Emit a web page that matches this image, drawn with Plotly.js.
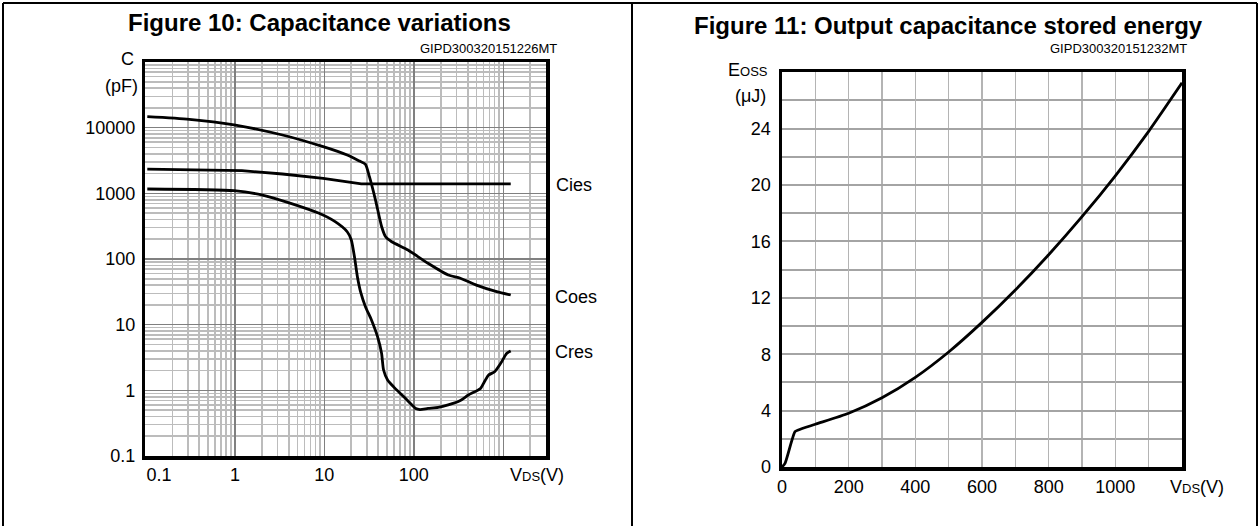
<!DOCTYPE html>
<html><head><meta charset="utf-8">
<script src="https://cdn.plot.ly/plotly-3.0.1.min.js"></script>
<style>html,body{margin:0;padding:0;background:#fff}#chart{width:1260px;height:526px}</style>
</head><body><div id="chart"></div>
<script>
// ---- Figure 10: capacitance variations (log-log) ----
const vdsCoes=[0.105,0.31,0.98,3.4,9.7,18,24.7,28.8,31.9,37.3,43.7,48.4,56.6,86,144,242,331,500,843,1210];
const coes=[14700,13400,11000,7730,5130,3830,3100,2770,1790,790,310,218,183,137,86,57,51,40,31.8,28.3];
const vdsCies=[0.105,1.2,3.4,9.7,25.9,1210];
const cies=[2340,2210,1970,1690,1390,1390];
const vdsCres=[0.105,0.98,2.03,4.21,8.73,13.2,18.0,20.0,21.7,23.4,25.5,28.8,33.6,39.3,43.6,45.9,50.9,59.5,77.2,105,117,144,187,242,331,407,556,617,685,800,935,1094,1210];
const cres=[1164,1097,942,704,496,370,260,195,108,53.7,31,18.8,11.8,6.56,3.66,2.04,1.44,1.13,0.80,0.53,0.51,0.53,0.55,0.60,0.70,0.85,1.07,1.36,1.71,1.92,2.58,3.66,3.97];
const capXTicks=[0.1,1,10,100,1000];
const capXText=['\u2002\u2002\u20020.1','1','10','100',''];
const capYTicks=[0.1,1,10,100,1000,10000,100000];
const capYText=['0.1','1','10','100','1000','10000',''];
const curveLabels=['Cies','Coes','Cres'];

// ---- Figure 11: output capacitance stored energy ----
const vdsEoss=[0,9,39,49,100,200,300,400,500,600,700,800,900,1000,1100,1200];
const eoss=[0,0.26,2.51,2.63,3.03,3.81,4.91,6.36,8.16,10.26,12.56,15.06,17.76,20.66,23.81,27.25];
const eXTicks=[0,200,400,600,800,1000];
const eYTicks=[0,4,8,12,16,20,24];

const W=1260,H=526;
const fx=p=>p/W, fy=p=>1-p/H;
const FONT='Liberation Sans, Arial, sans-serif';

// minor log gridlines (axis grid, not data)
const logMinor=(a,b)=>{const r=[];for(let k=a;k<b;k++)for(let d=2;d<=9;d++)r.push(d*Math.pow(10,k));return r;};

const line={color:'#000',width:2.8};
const traces=[
 {x:vdsCoes,y:coes,xaxis:'x',yaxis:'y',mode:'lines',line:Object.assign({shape:'spline',smoothing:0.6},line)},
 {x:vdsCies,y:cies,xaxis:'x',yaxis:'y',mode:'lines',line:line},
 {x:vdsCres,y:cres,xaxis:'x',yaxis:'y',mode:'lines',line:Object.assign({shape:'spline',smoothing:0.6},line)},
 {x:vdsEoss,y:eoss,xaxis:'x2',yaxis:'y2',mode:'lines',line:Object.assign({shape:'spline',smoothing:0.6},line)}
];

const axBase={showline:true,mirror:true,linecolor:'#000',linewidth:3.5,ticks:'',zeroline:false,
  tickfont:{family:FONT,size:18,color:'#000'},fixedrange:true};

const layout={
 width:W,height:H,margin:{l:0,r:0,t:0,b:0},showlegend:false,
 paper_bgcolor:'#fff',plot_bgcolor:'#fff',
 font:{family:FONT,color:'#000'},
 xaxis:Object.assign({},axBase,{type:'log',domain:[fx(145.4),fx(546)],range:[-1,Math.log10(3000)],
   tickvals:capXTicks,ticktext:capXText,showgrid:true,gridcolor:'#808080',gridwidth:1.5,
   minor:{tickvals:logMinor(-1,4),showgrid:true,gridcolor:'#bcbcbc',gridwidth:1.6},
   anchor:'y',ticklabelstandoff:0}),
 yaxis:Object.assign({},axBase,{type:'log',domain:[fy(456),fy(62)],range:[-1,5],
   tickvals:capYTicks,ticktext:capYText,showgrid:true,gridcolor:'#808080',gridwidth:1.5,
   minor:{tickvals:logMinor(-1,5),showgrid:true,gridcolor:'#bcbcbc',gridwidth:1.6},
   anchor:'x',ticklabelstandoff:3}),
 xaxis2:Object.assign({},axBase,{domain:[fx(782),fx(1182)],range:[0,1200],
   tickvals:eXTicks,showgrid:true,gridcolor:'#b4b4b4',gridwidth:1.5,
   minor:{dtick:100,showgrid:true,gridcolor:'#b4b4b4',gridwidth:1.5},
   anchor:'y2',ticklabelstandoff:1}),
 yaxis2:Object.assign({},axBase,{domain:[fy(467),fy(72.3)],range:[0,28],
   tickvals:eYTicks,showgrid:true,gridcolor:'#a4a4a4',gridwidth:2,
   minor:{dtick:2,showgrid:true,gridcolor:'#a4a4a4',gridwidth:2},
   anchor:'x2',ticklabelstandoff:4}),
 shapes:[
  {type:'line',xref:'paper',yref:'paper',x0:fx(3),x1:fx(1257),y0:fy(3),y1:fy(3),line:{color:'#000',width:2}},
  {type:'line',xref:'paper',yref:'paper',x0:fx(3),x1:fx(3),y0:fy(3),y1:fy(530),line:{color:'#000',width:2}},
  {type:'line',xref:'paper',yref:'paper',x0:fx(632),x1:fx(632),y0:fy(3),y1:fy(530),line:{color:'#000',width:2}},
  {type:'line',xref:'paper',yref:'paper',x0:fx(1257),x1:fx(1257),y0:fy(3),y1:fy(530),line:{color:'#000',width:2}}
 ],
 annotations:[]
};
const ann=(text,x,y,size,xa,opts)=>Object.assign({text:text,xref:'paper',yref:'paper',x:fx(x),y:fy(y),
  xanchor:xa||'center',yanchor:'middle',showarrow:false,font:{family:FONT,size:size,color:'#000'}},opts||{});
layout.annotations.push(
 ann('<b>Figure 10: Capacitance variations</b>',319.5,23,24),
 ann('<b>Figure 11: Output capacitance stored energy</b>',948,25,24),
 ann('GIPD300320151226MT',559,48,13,'right'),
 ann('GIPD300320151232MT',1189,48,13,'right'),
 ann('C',127,59,18),
 ann('(pF)',140,86,18,'right'),
 ann('E<span style="font-size:13px">OSS</span>',770,70,18,'right'),
 ann('(\u03bcJ)',768,96,18,'right'),
 ann(curveLabels[0],554,185,18,'left'),
 ann(curveLabels[1],553,297,18,'left'),
 ann(curveLabels[2],553,352,18,'left'),
 ann('V<span style="font-size:13px">DS</span>(V)',537,475,18),
 ann('V<span style="font-size:13px">DS</span>(V)',1197,487,18)
);
Plotly.newPlot('chart',traces,layout,{staticPlot:true,displayModeBar:false});
</script>
</body></html>
